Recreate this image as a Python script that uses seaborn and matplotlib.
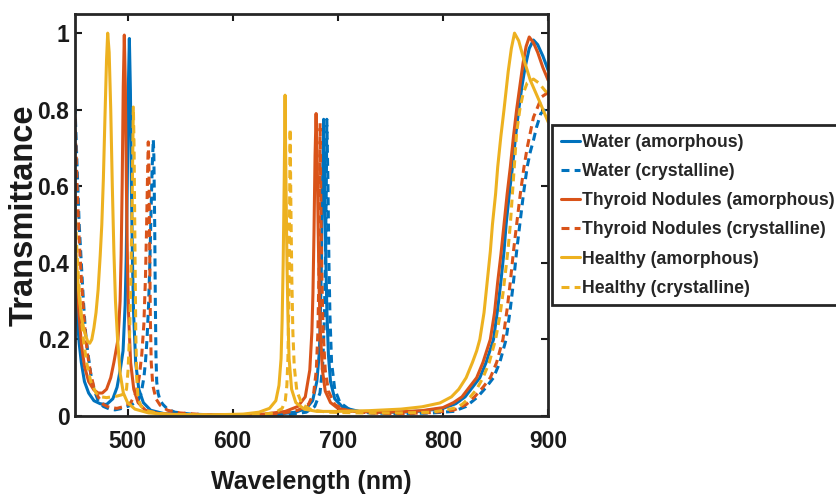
import matplotlib
matplotlib.use("Agg")
import matplotlib.pyplot as plt
import seaborn as sns

# wavelength (nm) / transmittance
water_am_x = [450, 452, 454, 456, 459, 463, 468, 474, 480, 486, 490, 493, 495.7, 497.7, 498.7, 499.7, 500.7, 501.7, 502.7, 503.7,
              504.7, 505.7, 507.7, 510.7, 515, 522, 535, 560, 600, 640, 660, 670, 676, 680, 682.5, 683.5, 684.5, 685.5, 686.5, 687.5,
              688.5, 689.5, 691, 693, 697, 705, 720, 740, 760, 780,
              800, 812, 821, 828, 835, 841, 848, 852, 855, 858, 860, 863, 866, 869, 872, 875, 878, 882, 886, 890, 895, 900]
water_am_y = [0.36, 0.26, 0.19, 0.14, 0.09, 0.06, 0.04, 0.032, 0.03, 0.045, 0.075, 0.12, 0.17, 0.29, 0.41, 0.6, 0.85, 0.986, 0.85, 0.59,
              0.4, 0.27, 0.14, 0.07, 0.035, 0.015, 0.006, 0.003, 0.002, 0.004, 0.01, 0.02, 0.04, 0.09, 0.17, 0.28, 0.42, 0.62, 0.775, 0.63,
              0.42, 0.28, 0.16, 0.09, 0.045, 0.022, 0.012, 0.01, 0.01, 0.013,
              0.02, 0.032, 0.05, 0.075, 0.1, 0.14, 0.2, 0.28, 0.35, 0.43, 0.5, 0.58, 0.65, 0.73, 0.8, 0.86, 0.91, 0.96, 0.982, 0.97, 0.94, 0.903]

water_cr_x = [450, 452, 454, 456, 458, 460, 462, 465, 468, 472, 477, 483, 488, 495, 503, 510, 513, 515.5, 517, 518.5,
              520, 521.2, 522.3, 523.4, 524.5, 525, 525.8, 526.4, 527, 527.7, 529, 531, 533.7, 538, 545, 560, 590, 630, 655, 670,
              678, 683, 685.5, 687, 688, 689, 689.5, 690.5, 691.5, 692.5, 694, 697, 702, 712, 730, 760, 790,
              810, 822, 833, 841, 848, 854, 860, 864, 867, 870, 873, 876.5, 880, 883, 886, 889, 893, 897, 900]
water_cr_y = [0.81, 0.65, 0.5, 0.4, 0.3, 0.22, 0.17, 0.11, 0.07, 0.04, 0.025, 0.018, 0.016, 0.02, 0.028, 0.04, 0.06, 0.1, 0.14, 0.2,
              0.29, 0.4, 0.53, 0.65, 0.722, 0.68, 0.5, 0.3, 0.16, 0.09, 0.06, 0.04, 0.03, 0.018, 0.01, 0.005, 0.002, 0.002, 0.004, 0.01,
              0.025, 0.06, 0.13, 0.24, 0.38, 0.6, 0.775, 0.62, 0.4, 0.26, 0.14, 0.07, 0.035, 0.015, 0.008, 0.006, 0.008,
              0.012, 0.025, 0.05, 0.075, 0.1, 0.14, 0.2, 0.28, 0.35, 0.43, 0.5, 0.58, 0.65, 0.69, 0.72, 0.755, 0.79, 0.8, 0.81]

thyroid_am_x = [450, 452, 454, 456, 459, 463, 468, 472, 476, 480, 484, 487, 490.9, 492.9, 493.9, 494.9, 495.9, 496.9, 497.9, 498.9,
                499.9, 500.9, 502.9, 505.9, 510, 517, 530, 560, 600, 630, 650, 662, 669, 673.3, 675.3, 676.3, 677.3, 678.3, 679.3, 680.3,
                681.3, 682.3, 683.3, 685.3, 688, 693, 700, 715, 740, 760, 780,
                800, 810, 818, 825, 832, 838, 845, 849, 852, 855, 858, 861, 864, 867, 870, 873, 876, 879, 882, 886, 890, 895, 900]
thyroid_am_y = [0.46, 0.34, 0.26, 0.19, 0.13, 0.09, 0.068, 0.06, 0.06, 0.07, 0.1, 0.14, 0.2, 0.3, 0.42, 0.61, 0.86, 0.995, 0.86, 0.6,
                0.4, 0.27, 0.14, 0.07, 0.035, 0.015, 0.006, 0.003, 0.003, 0.005, 0.012, 0.025, 0.05, 0.12, 0.22, 0.32, 0.48, 0.68, 0.79, 0.68,
                0.48, 0.32, 0.22, 0.12, 0.065, 0.035, 0.02, 0.012, 0.01, 0.011, 0.014,
                0.022, 0.035, 0.05, 0.075, 0.1, 0.14, 0.2, 0.27, 0.35, 0.42, 0.5, 0.58, 0.65, 0.73, 0.8, 0.86, 0.92, 0.965, 0.99, 0.975, 0.95, 0.91, 0.877]

thyroid_cr_x = [450, 452, 454, 456, 459, 462, 465, 468, 472, 477, 483, 490, 497, 503, 508, 511, 513.5, 515.5, 517, 518,
                519, 519.7, 520.3, 521, 521.7, 522.5, 524, 527, 531, 538, 550, 575, 620, 645, 662, 672, 677, 679.5, 681, 682,
                682.6, 683.1, 683.8, 684.8, 686, 688, 691, 697, 708, 730, 760, 790,
                810, 822, 830, 838, 845, 851, 857, 861, 864, 867, 870, 873.5, 877, 880, 883, 886, 889, 894, 900]
thyroid_cr_y = [0.78, 0.6, 0.46, 0.36, 0.24, 0.16, 0.11, 0.075, 0.05, 0.03, 0.022, 0.02, 0.025, 0.035, 0.06, 0.1, 0.16, 0.24, 0.36, 0.48,
                0.63, 0.716, 0.65, 0.45, 0.25, 0.14, 0.08, 0.045, 0.028, 0.015, 0.008, 0.003, 0.003, 0.006, 0.015, 0.03, 0.06, 0.12, 0.22, 0.37,
                0.55, 0.765, 0.56, 0.36, 0.22, 0.12, 0.065, 0.03, 0.014, 0.008, 0.006, 0.009,
                0.015, 0.03, 0.05, 0.075, 0.1, 0.14, 0.2, 0.28, 0.35, 0.43, 0.5, 0.58, 0.65, 0.7, 0.74, 0.78, 0.8, 0.834, 0.845]

healthy_am_x = [450, 452, 454, 456, 459, 462, 464, 466, 468, 470, 472, 474, 475.5, 477, 478.5, 480, 481.1, 482.5, 484, 485.5,
                487, 488.5, 490.5, 493, 496, 500, 507, 520, 540, 580, 610, 625, 635, 641, 644, 646, 647, 648, 649, 649.8,
                650.6, 651.6, 652.6, 653.6, 656, 660, 668, 680, 700, 730, 760, 780, 797,
                808, 815, 822, 828, 832, 835, 839, 842, 845, 847, 850, 852, 855, 858, 860, 862, 865, 868, 872, 877, 883, 892.5, 900]
healthy_am_y = [0.47, 0.38, 0.31, 0.26, 0.22, 0.195, 0.19, 0.2, 0.23, 0.27, 0.33, 0.42, 0.5, 0.62, 0.78, 0.93, 1.0, 0.95, 0.8, 0.6,
                0.43, 0.3, 0.2, 0.11, 0.06, 0.035, 0.018, 0.008, 0.004, 0.003, 0.005, 0.01, 0.02, 0.04, 0.08, 0.15, 0.25, 0.4, 0.62, 0.838,
                0.62, 0.4, 0.25, 0.15, 0.07, 0.035, 0.018, 0.012, 0.012, 0.014, 0.018, 0.024, 0.034,
                0.05, 0.07, 0.1, 0.14, 0.17, 0.2, 0.27, 0.35, 0.43, 0.5, 0.58, 0.65, 0.73, 0.8, 0.85, 0.9, 0.96, 1.0, 0.98, 0.93, 0.877, 0.817, 0.768]

healthy_cr_x = [450, 452, 454, 456, 458, 461, 465, 470, 475, 480, 485, 490, 494, 497, 499, 500.5, 502, 503.3, 504.3, 505,
                505.5, 506.2, 507, 507.8, 508.7, 510, 513, 518, 530, 550, 590, 625, 640, 647, 650, 651.5, 652.5, 653.3, 654, 654.6,
                655.3, 656.2, 657.2, 658.5, 661, 666, 675, 690, 720, 760, 790,
                810, 818, 826, 832, 838, 844, 850, 854, 857, 860, 862, 864, 866, 868, 870, 873, 876, 880, 886, 891, 900]
healthy_cr_y = [0.55, 0.42, 0.33, 0.26, 0.2, 0.14, 0.09, 0.06, 0.05, 0.048, 0.05, 0.052, 0.055, 0.058, 0.07, 0.12, 0.22, 0.38, 0.55, 0.7,
                0.807, 0.7, 0.45, 0.22, 0.1, 0.045, 0.025, 0.014, 0.006, 0.003, 0.002, 0.004, 0.008, 0.02, 0.04, 0.08, 0.15, 0.28, 0.5, 0.75,
                0.55, 0.36, 0.22, 0.13, 0.065, 0.03, 0.016, 0.01, 0.008, 0.008, 0.01,
                0.02, 0.03, 0.05, 0.07, 0.1, 0.14, 0.2, 0.26, 0.32, 0.39, 0.44, 0.5, 0.58, 0.66, 0.74, 0.8, 0.84, 0.87, 0.88, 0.87, 0.84]

labels = ['Water (amorphous)', 'Water (crystalline)', 'Thyroid Nodules (amorphous)',
          'Thyroid Nodules (crystalline)', 'Healthy (amorphous)', 'Healthy (crystalline)']
xs = [water_am_x, water_cr_x, thyroid_am_x, thyroid_cr_x, healthy_am_x, healthy_cr_x]
ys = [water_am_y, water_cr_y, thyroid_am_y, thyroid_cr_y, healthy_am_y, healthy_cr_y]
colors = ['#0072BD', '#0072BD', '#D95319', '#D95319', '#EDB120', '#EDB120']
dashed = [False, True, False, True, False, True]

sns.set_style("ticks")
plt.rcParams['font.family'] = ['Liberation Sans', 'DejaVu Sans']
plt.rcParams['font.weight'] = 'bold'

fig = plt.figure(figsize=(8.36, 5), dpi=100)
ax = fig.add_axes([0.0897, 0.168, 0.566, 0.804])

for x, y, c, d, lab in zip(xs, ys, colors, dashed, labels):
    ls = (0, (2.6, 1.7)) if d else '-'
    sns.lineplot(x=x, y=y, color=c, linestyle=ls, linewidth=2.2, label=lab, ax=ax, sort=False)

ax.set_xlim(450, 900)
ax.set_ylim(0, 1.05)
ax.set_xticks([500, 600, 700, 800, 900])
ax.set_yticks([0, 0.2, 0.4, 0.6, 0.8, 1])
ax.set_yticklabels(['0', '0.2', '0.4', '0.6', '0.8', '1'])
ax.tick_params(direction='in', top=True, right=True, length=5, width=1.5,
               labelsize=16.5, colors='#1a1a1a')
ax.tick_params(axis='x', pad=10)
ax.tick_params(axis='y', pad=4)
for s in ax.spines.values():
    s.set_linewidth(2)
    s.set_color('#262626')

ax.set_xlabel('Wavelength (nm)', fontsize=18, fontweight='bold', color='#1a1a1a')
ax.set_ylabel('Transmittance', fontsize=23.5, fontweight='bold', color='#1a1a1a')
ax.xaxis.set_label_coords(0.5, -0.135)
ax.yaxis.set_label_coords(-0.075, 0.5)

leg = ax.legend(loc='upper left', bbox_to_anchor=(0.660, 0.75), bbox_transform=fig.transFigure,
                fontsize=12.7, handlelength=1.1, handletextpad=0.1, borderpad=0.5,
                labelspacing=0.69, borderaxespad=0, fancybox=False, framealpha=1)
leg.get_frame().set_edgecolor('#262626')
leg.get_frame().set_linewidth(2)

fig.savefig('out.png', dpi=100)
